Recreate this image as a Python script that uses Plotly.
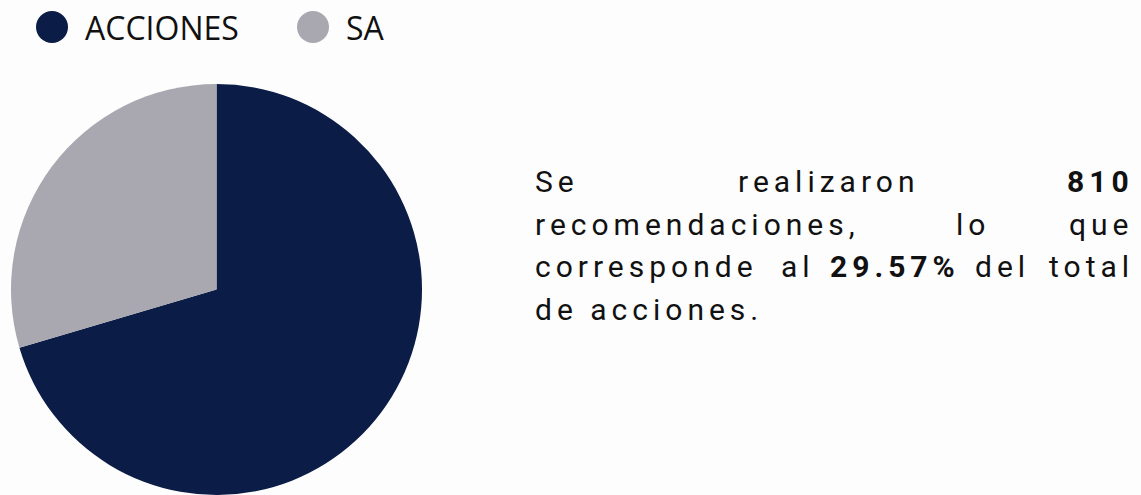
import plotly.graph_objects as go

labels = ["ACCIONES", "SA"]
values = [1929, 810]
colors = ["#0b1c47", "#a9a8b0"]

pct_sa = round(values[1] / sum(values) * 100, 2)

W, H = 1141, 495
BG = "#fdfdfd"


def px_x(v):
    return v / W


def px_y(v):
    return 1 - v / H


fig = go.Figure(
    go.Pie(
        labels=labels,
        values=values,
        sort=False,
        direction="clockwise",
        rotation=0,
        marker=dict(colors=colors, line=dict(width=0)),
        textinfo="none",
        showlegend=False,
        domain=dict(x=[px_x(10), px_x(423)], y=[0, px_y(84)]),
    )
)

# legend drawn by hand so the dots can be big
shapes = []
annotations = []
leg_x = [52, 313]
for i, name in enumerate(labels):
    cx = leg_x[i]
    shapes.append(dict(type="circle", xref="paper", yref="paper",
                       x0=px_x(cx - 16), x1=px_x(cx + 16),
                       y0=px_y(43), y1=px_y(11),
                       fillcolor=colors[i], line=dict(width=0)))
    annotations.append(dict(text=name, xref="paper", yref="paper",
                            x=px_x(cx + 31), y=px_y(27), xanchor="left", yanchor="middle",
                            showarrow=False, font=dict(family="Open Sans", size=32, color="#111111")))

# justified paragraph on the right, one annotation per word where the line is stretched
ls = 5
sp = "letter-spacing:%dpx" % ls
txt_font = dict(family="Roboto", size=30, color="#111111")
left, right = 533, 1131 + ls
lines = [
    [("Se", "left", left), ("realizaron", "center", 826 + ls / 2), ("<b>%d</b>" % values[1], "right", right)],
    [("recomendaciones,", "left", left), ("lo", "center", 970 + ls / 2), ("que", "right", right)],
    [("corresponde", "left", left), ("al", "center", 795 + ls / 2),
     ("<b>%.2f%%</b>" % pct_sa, "center", 892 + ls / 2), ("del", "center", 1000 + ls / 2),
     ("total", "right", right)],
    [("de acciones.", "left", left)],
]
line_y = [181.5, 224, 266.5, 309]
for ly, words in zip(line_y, lines):
    for w, anc, xx in words:
        annotations.append(dict(text="<span style='%s'>%s</span>" % (sp, w), xref="paper", yref="paper",
                                x=px_x(xx), y=px_y(ly), xanchor=anc, yanchor="middle",
                                showarrow=False, font=txt_font))

fig.update_layout(
    width=W, height=H,
    margin=dict(l=0, r=0, t=0, b=0),
    paper_bgcolor=BG, plot_bgcolor=BG,
    shapes=shapes, annotations=annotations,
)

fig.write_html("out.html", config={"displayModeBar": False},
               post_script="document.body.style.margin='0';")
